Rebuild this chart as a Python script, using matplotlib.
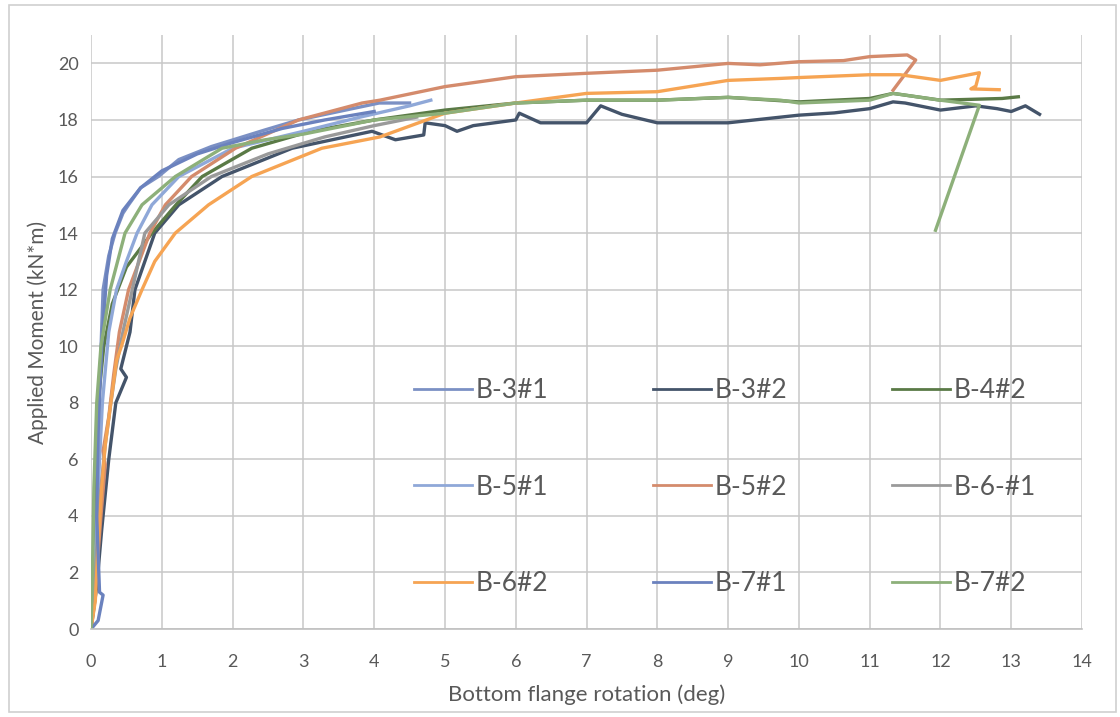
import matplotlib
matplotlib.use('Agg')
import matplotlib.pyplot as plt
from matplotlib.patches import Rectangle

plt.rcParams['font.family'] = ['Lato', 'DejaVu Sans']

# Moment-rotation curves (rotation in deg, moment in kN*m)
b31_rot = [0.0, 0.05, 0.08, 0.12, 0.17, 0.25, 0.34, 0.45, 0.53, 0.7, 0.95, 1.24, 1.7, 2.46, 2.93, 3.5, 4.07, 4.5]
b31_mom = [0.0, 2.0, 5.0, 8.5, 12.0, 13.2, 14.0, 14.7, 15.0, 15.6, 16.0, 16.6, 17.06, 17.65, 18.0, 18.3, 18.6, 18.6]

b32_rot = [0.0, 0.08, 0.15, 0.25, 0.35, 0.45, 0.5, 0.42, 0.55, 0.62, 0.9, 1.24, 1.85, 2.84, 3.97, 4.3, 4.7, 4.72,
           5.0, 5.17, 5.4, 6.0, 6.05, 6.35, 7.0, 7.2, 7.5, 8.0, 9.0, 9.74, 10.0, 10.5, 11.0, 11.33, 11.5,
           12.0, 12.5, 12.8, 13.0, 13.2, 13.4]
b32_mom = [0.0, 1.5, 3.5, 6.0, 8.0, 8.6, 8.9, 9.2, 10.5, 12.0, 14.0, 15.0, 16.0, 17.0, 17.6, 17.3, 17.47, 17.9,
           17.8, 17.6, 17.8, 18.0, 18.24, 17.9, 17.9, 18.5, 18.2, 17.9, 17.9, 18.1, 18.17, 18.25, 18.4, 18.64, 18.6,
           18.35, 18.5, 18.4, 18.3, 18.5, 18.2]

b42_rot = [0.0, 0.03, 0.06, 0.1, 0.18, 0.3, 0.5, 0.86, 1.2, 1.57, 2.27, 3.1, 4.0, 5.0, 6.0, 7.0, 8.0,
           9.0, 10.0, 11.0, 11.33, 12.0, 12.87, 13.1]
b42_mom = [0.0, 2.0, 5.0, 8.0, 10.0, 11.5, 12.8, 14.0, 15.0, 16.0, 17.0, 17.6, 18.0, 18.35, 18.6, 18.7, 18.7,
           18.8, 18.64, 18.76, 18.94, 18.7, 18.76, 18.82]

b51_rot = [0.0, 0.05, 0.1, 0.16, 0.25, 0.36, 0.5, 0.65, 0.86, 1.24, 2.0, 3.0, 3.8, 4.5, 4.8]
b51_mom = [0.0, 2.0, 5.0, 8.0, 10.5, 12.0, 13.0, 14.0, 15.0, 16.0, 17.0, 17.6, 18.1, 18.5, 18.7]

b52_rot = [0.0, 0.08, 0.14, 0.2, 0.17, 0.25, 0.32, 0.4, 0.53, 0.83, 1.05, 1.42, 2.04, 2.93, 3.83, 4.08, 5.0,
           6.0, 7.0, 8.0, 9.0, 9.45, 10.0, 10.63, 11.0, 11.53, 11.65, 11.33]
b52_mom = [0.0, 2.0, 4.0, 5.8, 6.3, 7.5, 9.0, 10.5, 12.0, 14.0, 15.0, 16.0, 17.0, 18.0, 18.6, 18.7, 19.18,
           19.53, 19.65, 19.76, 20.0, 19.95, 20.06, 20.1, 20.24, 20.3, 20.12, 19.05]

b61_rot = [0.0, 0.06, 0.12, 0.2, 0.28, 0.35, 0.45, 0.6, 0.76, 1.1, 1.7, 2.5, 3.3, 4.0, 4.6]
b61_mom = [0.0, 2.0, 4.5, 6.5, 8.0, 9.2, 10.5, 12.2, 14.0, 15.0, 16.0, 16.8, 17.4, 17.8, 18.1]

b62_rot = [0.0, 0.06, 0.1, 0.15, 0.2, 0.28, 0.36, 0.43, 0.55, 0.72, 0.9, 1.19, 1.66, 2.27, 3.26, 4.08, 5.0,
           6.0, 7.0, 8.0, 9.0, 9.74, 10.0, 11.0, 11.43, 12.0, 12.55, 12.5, 12.43, 12.83]
b62_mom = [0.0, 1.0, 3.0, 5.0, 6.5, 8.0, 9.5, 10.0, 11.0, 12.0, 13.0, 14.0, 15.0, 16.0, 17.0, 17.4, 18.24,
           18.6, 18.94, 19.0, 19.4, 19.47, 19.5, 19.6, 19.6, 19.4, 19.67, 19.2, 19.1, 19.07]

b71_rot = [0.0, 0.1, 0.17, 0.12, 0.08, 0.1, 0.15, 0.22, 0.3, 0.45, 0.7, 1.0, 1.5, 2.0, 2.7, 3.3, 4.0]
b71_mom = [0.0, 0.3, 1.2, 1.3, 4.0, 7.0, 10.0, 12.5, 13.8, 14.8, 15.6, 16.2, 16.8, 17.2, 17.7, 18.0, 18.3]

b72_rot = [0.0, 0.02, 0.04, 0.08, 0.14, 0.27, 0.48, 0.72, 1.19, 1.85, 2.46, 3.0, 4.0, 5.0, 6.0, 7.0, 8.0,
           9.0, 9.74, 10.0, 11.0, 11.33, 12.0, 12.55, 11.93]
b72_mom = [0.0, 2.0, 5.0, 8.0, 10.0, 12.0, 14.0, 15.0, 16.0, 17.0, 17.3, 17.5, 18.0, 18.24, 18.6, 18.7, 18.7,
           18.8, 18.7, 18.6, 18.7, 18.94, 18.7, 18.52, 14.1]

labels = ['B-3#1', 'B-3#2', 'B-4#2', 'B-5#1', 'B-5#2', 'B-6-#1', 'B-6#2', 'B-7#1', 'B-7#2']
rots = [b31_rot, b32_rot, b42_rot, b51_rot, b52_rot, b61_rot, b62_rot, b71_rot, b72_rot]
moms = [b31_mom, b32_mom, b42_mom, b51_mom, b52_mom, b61_mom, b62_mom, b71_mom, b72_mom]
colors = ['#7B90C4', '#44546A', '#5A7A46', '#8FA8D8', '#D48B6C', '#9A9A9A', '#F6A453', '#6B82BE', '#8DB07A']

fig = plt.figure(figsize=(11.2, 7.17), dpi=100)
ax = fig.add_axes([0.0813, 0.1227, 0.8848, 0.8283])

lines = []
for r, m, lab, c in zip(rots, moms, labels, colors):
    ln, = ax.plot(r, m, color=c, lw=2.4, label=lab, solid_joinstyle='round')
    lines.append(ln)

ax.set_xlim(0, 14)
ax.set_ylim(0, 21)
ax.set_xticks(range(0, 15))
ax.set_yticks(range(0, 21, 2))
ax.grid(True, color='#C8C8C8', lw=1.1)
ax.set_axisbelow(True)
for s in ['top', 'right', 'left']:
    ax.spines[s].set_visible(False)
ax.spines['bottom'].set_color('#C0C0C0')
ax.spines['bottom'].set_linewidth(1.2)
ax.tick_params(length=0, labelsize=13, labelcolor='#595959')
ax.tick_params(axis='x', pad=18)
ax.tick_params(axis='y', pad=9)

ax.set_xlabel('Bottom flange rotation (deg)', fontsize=16, color='#595959', labelpad=10)
ax.set_ylabel('Applied Moment (kN*m)', fontsize=15, color='#595959', labelpad=7)

# legend is filled column by column, so reorder to read row by row
order = [0, 3, 6, 1, 4, 7, 2, 5, 8]
leg = ax.legend([lines[i] for i in order], [labels[i] for i in order],
                ncol=3, loc='upper left', bbox_to_anchor=(0.302, 0.462), frameon=False,
                fontsize=19, handlelength=2.2, handletextpad=0.15, columnspacing=3.95,
                labelspacing=2.7)
for t in leg.get_texts():
    t.set_color('#595959')
for h in leg.get_lines():
    h.set_linewidth(2)

# light outer chart border
fig.patches.append(Rectangle((0.008, 0.007), 0.988, 0.986, transform=fig.transFigure,
                             fill=False, edgecolor='#D0D0D0', lw=1.2))

plt.savefig('out.png', dpi=100)
